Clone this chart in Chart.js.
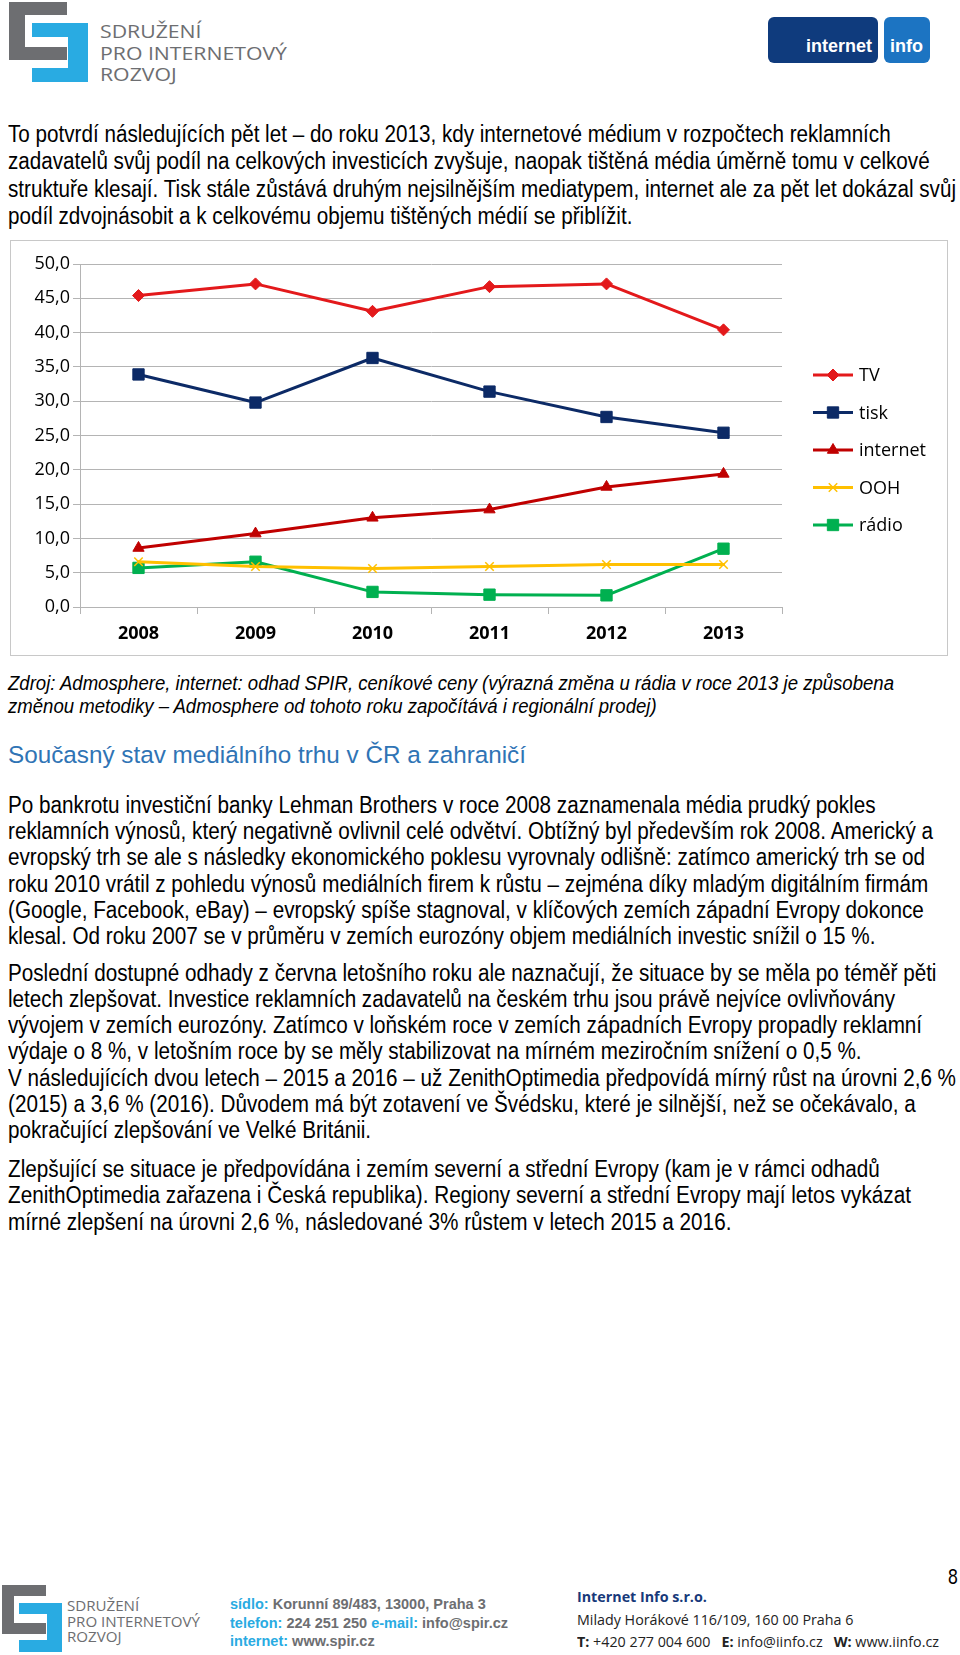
<!DOCTYPE html>
<html lang="cs">
<head>
<meta charset="utf-8">
<script src="https://cdn.jsdelivr.net/npm/chart.js@4.4.1/dist/chart.umd.min.js"></script>
<style>
  html, body { margin:0; padding:0; background:#fff; }
  #page { position:relative; width:960px; height:1655px; overflow:hidden; background:#fff; }
  .abs { position:absolute; }
  .blk { position:absolute; transform-origin:0 0; font-family:"Liberation Sans", Arial, sans-serif; color:#000; }
  .ln { white-space:nowrap; width:max-content; }
  .sq { position:absolute; }
  #chartBox { position:absolute; left:10px; top:240px; width:936px; height:414px; border:1px solid #c8c8c8; }
  #chartBox canvas { display:block; }
</style>
</head>
<body>
<div id="page">
  <!-- header SPIR logo -->
  <div id="logoTop" class="abs" style="left:9px;top:2px;"></div>
  <div class="blk fit" data-w="187" style="left:100px;top:21px;font-family:'Open Sans',sans-serif;font-size:19px;line-height:21.7px;color:#6d6e71;">
    <div class="ln">SDRUŽENÍ</div>
    <div class="ln">PRO INTERNETOVÝ</div>
    <div class="ln">ROZVOJ</div>
  </div>
  <!-- header internet info logo -->
  <div class="abs" style="left:768px;top:17px;width:110px;height:46px;border-radius:6px;background:#0f3b7d;"></div>
  <div class="abs" style="left:884px;top:17px;width:46px;height:46px;border-radius:6px;background:#1c74c2;"></div>
  <div class="abs" style="left:790px;top:34px;width:82px;text-align:right;font-family:'Liberation Sans',Arial,sans-serif;font-weight:bold;font-size:18px;color:#fff;line-height:24px;">internet</div>
  <div class="abs" style="left:890px;top:34px;font-family:'Liberation Sans',Arial,sans-serif;font-weight:bold;font-size:18px;color:#fff;line-height:24px;">info</div>

  <!-- paragraph 1 -->
  <div class="blk fit" data-w="948" style="left:8px;top:121px;font-size:23.5px;line-height:27.3px;">
    <div class="ln">To potvrdí následujících pět let – do roku 2013, kdy internetové médium v rozpočtech reklamních</div>
    <div class="ln">zadavatelů svůj podíl na celkových investicích zvyšuje, naopak tištěná média úměrně tomu v celkové</div>
    <div class="ln">struktuře klesají. Tisk stále zůstává druhým nejsilnějším mediatypem, internet ale za pět let dokázal svůj</div>
    <div class="ln">podíl zdvojnásobit a k celkovému objemu tištěných médií se přiblížit.</div>
  </div>

  <div id="chartBox"><canvas id="chart" width="936" height="414"></canvas></div>

  <!-- caption -->
  <div class="blk fit" data-w="886" style="left:8px;top:672px;font-size:19.5px;line-height:23.2px;font-style:italic;">
    <div class="ln">Zdroj: Admosphere, internet: odhad SPIR, ceníkové ceny (výrazná změna u rádia v roce 2013 je způsobena</div>
    <div class="ln">změnou metodiky – Admosphere od tohoto roku započítává i regionální prodej)</div>
  </div>

  <!-- heading -->
  <div class="blk fit" data-w="518" style="left:8px;top:740px;font-size:24.5px;line-height:30px;color:#2f74b5;">
    <div class="ln">Současný stav mediálního trhu v ČR a zahraničí</div>
  </div>

  <!-- paragraph 2 -->
  <div class="blk fit" data-w="925" style="left:8px;top:792px;font-size:23.5px;line-height:26.2px;">
    <div class="ln">Po bankrotu investiční banky Lehman Brothers v roce 2008 zaznamenala média prudký pokles</div>
    <div class="ln">reklamních výnosů, který negativně ovlivnil celé odvětví. Obtížný byl především rok 2008. Americký a</div>
    <div class="ln">evropský trh se ale s následky ekonomického poklesu vyrovnaly odlišně: zatímco americký trh se od</div>
    <div class="ln">roku 2010 vrátil z pohledu výnosů mediálních firem k růstu – zejména díky mladým digitálním firmám</div>
    <div class="ln">(Google, Facebook, eBay) – evropský spíše stagnoval, v klíčových zemích západní Evropy dokonce</div>
    <div class="ln">klesal. Od roku 2007 se v průměru v zemích eurozóny objem mediálních investic snížil o 15 %.</div>
  </div>

  <!-- paragraph 3 -->
  <div class="blk fit" data-w="948" style="left:8px;top:959.5px;font-size:23.5px;line-height:26.3px;">
    <div class="ln">Poslední dostupné odhady z června letošního roku ale naznačují, že situace by se měla po téměř pěti</div>
    <div class="ln">letech zlepšovat. Investice reklamních zadavatelů na českém trhu jsou právě nejvíce ovlivňovány</div>
    <div class="ln">vývojem v zemích eurozóny. Zatímco v loňském roce v zemích západních Evropy propadly reklamní</div>
    <div class="ln">výdaje o 8 %, v letošním roce by se měly stabilizovat na mírném meziročním snížení o 0,5 %.</div>
    <div class="ln">V následujících dvou letech – 2015 a 2016 – už ZenithOptimedia předpovídá mírný růst na úrovni 2,6 %</div>
    <div class="ln">(2015) a 3,6 % (2016). Důvodem má být zotavení ve Švédsku, které je silnější, než se očekávalo, a</div>
    <div class="ln">pokračující zlepšování ve Velké Británii.</div>
  </div>

  <!-- paragraph 4 -->
  <div class="blk fit" data-w="903" style="left:8px;top:1156px;font-size:23.5px;line-height:26.3px;">
    <div class="ln">Zlepšující se situace je předpovídána i zemím severní a střední Evropy (kam je v rámci odhadů</div>
    <div class="ln">ZenithOptimedia zařazena i Česká republika). Regiony severní a střední Evropy mají letos vykázat</div>
    <div class="ln">mírné zlepšení na úrovni 2,6 %, následované 3% růstem v letech 2015 a 2016.</div>
  </div>

  <!-- page number -->
  <div class="blk" style="left:948px;top:1564px;font-size:22px;line-height:26px;transform:scaleX(0.8);">8</div>

  <!-- footer SPIR logo -->
  <div id="logoBottom" class="abs" style="left:2px;top:1585px;"></div>
  <div class="blk fit" data-w="133" style="left:67px;top:1598px;font-family:'Open Sans',sans-serif;font-size:14.5px;line-height:15.5px;color:#6d6e71;">
    <div class="ln">SDRUŽENÍ</div>
    <div class="ln">PRO INTERNETOVÝ</div>
    <div class="ln">ROZVOJ</div>
  </div>
  <div class="blk fit" data-w="278" style="left:230px;top:1595px;font-size:15.5px;line-height:18.5px;font-weight:bold;color:#6d6e71;">
    <div class="ln"><span style="color:#29abe2">sídlo:</span> Korunní 89/483, 13000, Praha 3</div>
    <div class="ln"><span style="color:#29abe2">telefon:</span> 224 251 250 <span style="color:#29abe2">e-mail:</span> info@spir.cz</div>
    <div class="ln"><span style="color:#29abe2">internet:</span> www.spir.cz</div>
  </div>
  <div class="blk fit" data-w="362" style="left:577px;top:1586px;font-family:'Open Sans',sans-serif;font-size:14px;line-height:22.5px;color:#222;">
    <div class="ln" style="font-weight:bold;color:#17397a;">Internet Info s.r.o.</div>
    <div class="ln">Milady Horákové 116/109, 160 00 Praha 6</div>
    <div class="ln"><b>T:</b> +420 277 004 600&nbsp;&nbsp; <b>E:</b> info@iinfo.cz&nbsp;&nbsp; <b>W:</b> www.iinfo.cz</div>
  </div>
</div>

<script>
// ---------- data ----------
const categories = ['2008', '2009', '2010', '2011', '2012', '2013'];
const seriesNames = ['TV', 'tisk', 'internet', 'OOH', 'rádio'];
const tvValues = [45.4, 47.1, 43.1, 46.7, 47.1, 40.4];
const tiskValues = [33.9, 29.8, 36.3, 31.4, 27.7, 25.4];
const internetValues = [8.6, 10.7, 13.0, 14.2, 17.5, 19.4];
const oohValues = [6.6, 5.9, 5.6, 5.9, 6.2, 6.2];
const radioValues = [5.7, 6.6, 2.2, 1.8, 1.7, 8.5];
const yTickMin = 0, yTickMax = 50, yTickStep = 5;

// ---------- logos ----------
function buildLogo(host, sx, sy) {
  const parts = [
    [0, 0, 58, 13, '#6d6e71'], [0, 0, 16, 58, '#6d6e71'], [0, 45, 58, 13, '#6d6e71'],
    [23, 21, 56, 14, '#29abe2'], [59, 21, 20, 59, '#29abe2'], [23, 66, 56, 14, '#29abe2']
  ];
  parts.forEach(p => {
    const d = document.createElement('div');
    d.className = 'sq';
    d.style.left = (p[0] * sx) + 'px'; d.style.top = (p[1] * sy) + 'px';
    d.style.width = (p[2] * sx) + 'px'; d.style.height = (p[3] * sy) + 'px';
    d.style.background = p[4];
    host.appendChild(d);
  });
}
buildLogo(document.getElementById('logoTop'), 1, 1);
buildLogo(document.getElementById('logoBottom'), 0.76, 0.84);

// ---------- fit text blocks horizontally ----------
document.querySelectorAll('.fit').forEach(b => {
  let w = 0;
  b.querySelectorAll('.ln').forEach(l => { w = Math.max(w, l.getBoundingClientRect().width); });
  const target = parseFloat(b.dataset.w);
  if (w > 0) b.style.transform = 'scaleX(' + (target / w) + ')';
});

// ---------- chart ----------
const FONT = '"Open Sans", sans-serif';
const GRID = '#b4b4b4';

const sideLegend = {
  id: 'sideLegend',
  afterDraw(chart) {
    const ctx = chart.ctx;
    chart.data.datasets.forEach((ds, i) => {
      const y = 134 + i * 37.5;
      ctx.save();
      ctx.strokeStyle = ds.borderColor;
      ctx.lineWidth = ds.borderWidth;
      ctx.beginPath(); ctx.moveTo(802, y); ctx.lineTo(842, y); ctx.stroke();
      ctx.fillStyle = ds.pointBackgroundColor;
      ctx.strokeStyle = ds.pointBorderColor;
      ctx.lineWidth = ds.pointBorderWidth;
      Chart.helpers.drawPoint(ctx, { pointStyle: ds.pointStyle, radius: ds.pointRadius, borderWidth: ds.pointBorderWidth, rotation: 0 }, 822, y);
      ctx.fillStyle = '#000';
      ctx.font = '18px ' + FONT;
      ctx.textBaseline = 'middle';
      ctx.textAlign = 'left';
      ctx.fillText(ds.label, 848, y + 1);
      ctx.restore();
    });
  }
};

function ds(label, data, color, style, radius, pbw) {
  return {
    label, data,
    borderColor: color, backgroundColor: color,
    borderWidth: 3,
    pointStyle: style, pointRadius: radius, pointHoverRadius: radius,
    pointBackgroundColor: color, pointBorderColor: color, pointBorderWidth: pbw,
    tension: 0, fill: false
  };
}

new Chart(document.getElementById('chart'), {
  type: 'line',
  data: {
    labels: categories,
    datasets: [
      ds(seriesNames[0], tvValues, '#e3191b', 'rectRot', 6, 1),
      ds(seriesNames[1], tiskValues, '#0c2a66', 'rect', 8, 1),
      ds(seriesNames[2], internetValues, '#c00000', 'triangle', 6.5, 1),
      ds(seriesNames[3], oohValues, '#ffc000', 'crossRot', 6, 1.5),
      ds(seriesNames[4], radioValues, '#00b050', 'rect', 8, 1)
    ]
  },
  options: {
    responsive: false,
    animation: false,
    events: [],
    layout: { padding: { left: 0, right: 165, top: 23, bottom: 0 } },
    plugins: { legend: { display: false }, tooltip: { enabled: false } },
    elements: { line: { borderCapStyle: 'round', borderJoinStyle: 'round' } },
    scales: {
      x: {
        type: 'category',
        offset: true,
        afterFit(scale) { scale.height = 48; },
        grid: { display: true, offset: true, drawOnChartArea: false, drawTicks: true, tickLength: 7, color: GRID, lineWidth: 1 },
        border: { display: true, color: GRID, width: 1 },
        ticks: { color: '#000', padding: 9, font: { family: FONT, size: 18, weight: 'bold' }, maxRotation: 0, autoSkip: false }
      },
      y: {
        min: yTickMin, max: yTickMax,
        afterFit(scale) { scale.width = 69; },
        grid: { color: GRID, lineWidth: 1, drawTicks: true, tickLength: 7 },
        border: { display: true, color: GRID, width: 1 },
        ticks: {
          stepSize: yTickStep, color: '#000', padding: 3,
          font: { family: FONT, size: 18 },
          callback: v => v.toFixed(1).replace('.', ',')
        }
      }
    }
  },
  plugins: [sideLegend]
});
</script>
</body>
</html>
